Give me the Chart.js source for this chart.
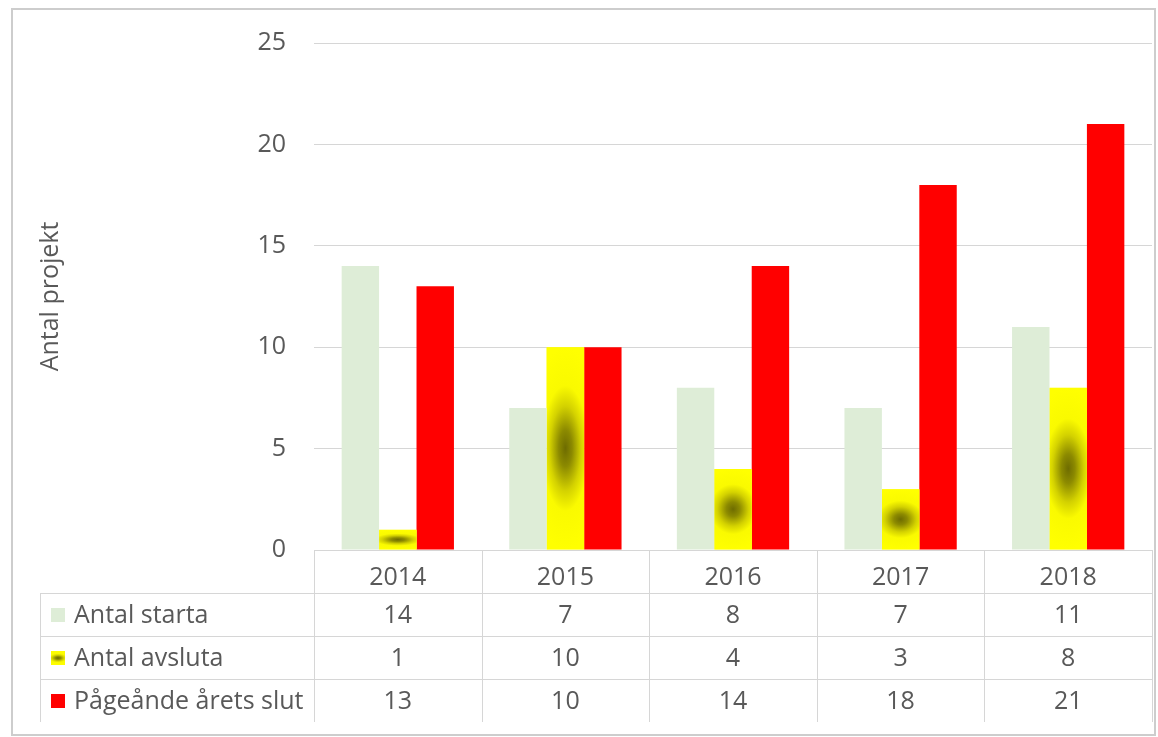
<!DOCTYPE html>
<html>
<head>
<meta charset="utf-8">
<title>Antal projekt</title>
<script src="https://cdn.jsdelivr.net/npm/chart.js@4/dist/chart.umd.min.js"></script>
<style>
	html, body { margin: 0; padding: 0; background: #fff; }
	#wrap { width: 1158px; height: 737px; }
</style>
</head>
<body>
<div id="wrap"><canvas id="grafico"></canvas></div>
<script>
// dati
const anni = ['2014', '2015', '2016', '2017', '2018'];
const antalStarta = [14, 7, 8, 7, 11];
const antalAvsluta = [1, 10, 4, 3, 8];
const pagaende = [13, 10, 14, 18, 21];
const serieNomi = ['Antal starta', 'Antal avsluta', 'Pågeånde årets slut'];
const yMax = 25;
const yStep = 5;
const yTitolo = 'Antal projekt';

const FONT = '"Open Sans", "Noto Sans", sans-serif';
const GRIGIO = '#595959';
const LINEA = '#d6d6d6';
const colori = ['#deedd7', '#ffff00', '#ff0000'];

function gradienteGiallo(ctx, left, top, w, h) {
	ctx.save();
	ctx.beginPath();
	ctx.rect(left, top, w, h);
	ctx.clip();
	ctx.translate(left + w / 2, top + h / 2);
	ctx.scale(w, h / 2);
	var g = ctx.createRadialGradient(0, 0, 0, 0, 0, 1);
	g.addColorStop(0, '#6e6c00');
	g.addColorStop(0.18, '#8c8a00');
	g.addColorStop(0.42, '#d4d200');
	g.addColorStop(0.62, '#fafa00');
	g.addColorStop(1, '#ffff00');
	ctx.fillStyle = g;
	ctx.fillRect(-1, -1, 2, 2);
	ctx.restore();
}

// sfondo e cornice
const cornicePlugin = {
	id: 'cornice',
	beforeDraw(chart) {
		var ctx = chart.ctx;
		ctx.save();
		ctx.fillStyle = '#fff';
		ctx.fillRect(0, 0, chart.width, chart.height);
		ctx.strokeStyle = '#cdcdcd';
		ctx.lineWidth = 2;
		ctx.strokeRect(12, 9, 1143, 726);
		ctx.restore();
	}
};

// sfumatura delle barre gialle (stessa geometria delle barre)
const sfumaturaPlugin = {
	id: 'sfumatura',
	afterDatasetDraw(chart, args) {
		if (args.index !== 1) return;
		var ctx = chart.ctx;
		args.meta.data.forEach(function(bar) {
			var p = bar.getProps(['x', 'y', 'base', 'width'], true);
			var top = Math.min(p.y, p.base);
			var h = Math.abs(p.base - p.y);
			if (h < 1) return;
			gradienteGiallo(ctx, p.x - p.width / 2, top, p.width, h);
		});
	}
};

// tabella dati sotto l'asse x
const tabellaPlugin = {
	id: 'tabella',
	afterDraw(chart) {
		var ctx = chart.ctx;
		var area = chart.chartArea;
		var xs = chart.scales.x;
		var n = chart.data.labels.length;
		var cw = (area.right - area.left) / n;
		var headTop = area.bottom;
		var headBottom = xs.bottom;
		var rowH = 43;
		var tabLeft = 40;
		var tabBottom = headBottom + rowH * 3;

		ctx.save();
		ctx.strokeStyle = LINEA;
		ctx.lineWidth = 1;
		ctx.beginPath();
		// linea superiore intestazione
		ctx.moveTo(area.left, headTop + 0.5);
		ctx.lineTo(area.right, headTop + 0.5);
		// linee orizzontali delle righe
		for (var r = 0; r < 3; r++) {
			var yy = Math.round(headBottom + r * rowH) + 0.5;
			ctx.moveTo(tabLeft, yy);
			ctx.lineTo(area.right, yy);
		}
		// verticali
		for (var i = 0; i <= n; i++) {
			var xx = Math.round(area.left + i * cw) + 0.5;
			ctx.moveTo(xx, headTop);
			ctx.lineTo(xx, tabBottom);
		}
		ctx.moveTo(tabLeft + 0.5, headBottom);
		ctx.lineTo(tabLeft + 0.5, tabBottom);
		ctx.stroke();

		ctx.font = '25px ' + FONT;
		ctx.fillStyle = GRIGIO;
		ctx.textBaseline = 'middle';
		chart.data.datasets.forEach(function(ds, r) {
			var cy = headBottom + r * rowH + rowH / 2;
			// chiave della legenda
			var kx = 51, ks = 14, ky = Math.round(cy - ks / 2);
			if (r === 1) {
				ctx.fillStyle = '#ffff00';
				ctx.fillRect(kx, ky, ks, ks);
				gradienteGiallo(ctx, kx, ky, ks, ks);
			} else {
				ctx.fillStyle = ds.backgroundColor;
				ctx.fillRect(kx, ky, ks, ks);
			}
			ctx.fillStyle = GRIGIO;
			ctx.textAlign = 'left';
			ctx.fillText(ds.label, 74, cy + 1);
			ctx.textAlign = 'center';
			ds.data.forEach(function(v, i) {
				ctx.fillText(String(v), xs.getPixelForValue(i), cy + 1);
			});
		});
		ctx.restore();
	}
};

const config = {
	type: 'bar',
	data: {
		labels: anni,
		datasets: [
			{ label: serieNomi[0], data: antalStarta, backgroundColor: colori[0] },
			{ label: serieNomi[1], data: antalAvsluta, backgroundColor: colori[1] },
			{ label: serieNomi[2], data: pagaende, backgroundColor: colori[2] }
		]
	},
	options: {
		responsive: true,
		maintainAspectRatio: false,
		animation: false,
		events: [],
		layout: { padding: { left: 30, top: 39, right: 6, bottom: 144 } },
		datasets: { bar: { categoryPercentage: 0.67, barPercentage: 1.0, borderWidth: 0 } },
		plugins: { legend: { display: false }, tooltip: { enabled: false } },
		scales: {
			x: {
				grid: { display: false },
				border: { display: false },
				ticks: { color: GRIGIO, font: { family: FONT, size: 25 }, padding: 5, maxRotation: 0 },
				afterFit: function(scale) { scale.height = 43; }
			},
			y: {
				min: 0,
				max: yMax,
				ticks: { stepSize: yStep, color: GRIGIO, font: { family: FONT, size: 25 }, padding: 28 },
				grid: { color: LINEA, drawTicks: false },
				border: { display: false },
				title: { display: true, text: yTitolo, color: GRIGIO, font: { family: FONT, size: 25 }, padding: { top: 6, bottom: 0 } },
				afterFit: function(scale) { scale.width = 284; }
			}
		}
	},
	plugins: [cornicePlugin, sfumaturaPlugin, tabellaPlugin]
};

var ctx = document.getElementById('grafico').getContext('2d');
var grafico = new Chart(ctx, config);
</script>
</body>
</html>
